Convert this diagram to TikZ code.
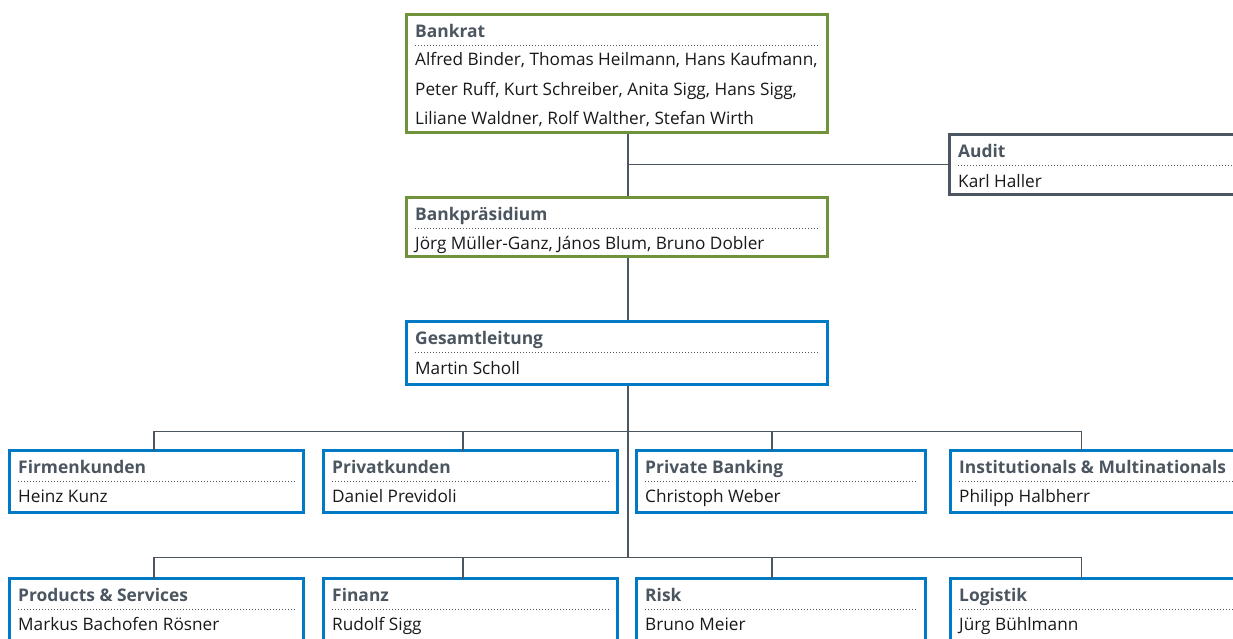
\documentclass[tikz,border=0pt]{standalone}
\usepackage{fontspec}
\setmainfont{Open Sans}
\usetikzlibrary{calc}
\definecolor{bgreen}{RGB}{112,146,58}
\definecolor{bblue}{RGB}{0,122,196}
\definecolor{bgray}{RGB}{76,86,96}
\definecolor{htext}{RGB}{76,86,96}
\definecolor{ntext}{RGB}{25,25,25}
\tikzset{
  boxst/.style={draw, line width=2.6pt, fill=white, rectangle, inner sep=0pt, outer sep=0pt, anchor=north west},
  headst/.style={font=\fontsize{17.4}{20}\selectfont\bfseries, text=htext, inner sep=0pt, anchor=base west},
  namest/.style={font=\fontsize{17.2}{29.5}\selectfont, text=ntext, inner sep=0pt, anchor=base west, align=left},
  dotst/.style={draw=bgray, line width=0.9pt, dash pattern=on 0.9pt off 2.1pt},
  conn/.style={draw=bgray, line width=1.3pt},
}
% #9: offset of the baseline of the last text line
\newcommand{\obox}[9]{%
  \node[boxst, draw=#6, minimum width=#4pt, minimum height=#5pt] (#1) at (#2,#3) {};
  \node[headst] (#1-h) at ($(#1.north west)+(8.5,23)$) {#7};
  \path[dotst] ($(#1.north west)+(8.5,31)$) -- ($(#1.north east)+(-8,31)$);
  \node[namest] (#1-n) at ($(#1.north west)+(8.5,#9)$) {#8};
}
\begin{document}
\begin{tikzpicture}[x=1pt,y=-1pt]
\useasboundingbox (0,0) rectangle (1233,638);
\clip (0,0) rectangle (1233,638);
\fill[white] (0,0) rectangle (1233,638);
% column / trunk coordinates
\coordinate (trunk) at (628,0);
\coordinate (c1) at (154,0);
\coordinate (c2) at (463,0);
\coordinate (c3) at (772,0);
\coordinate (c4) at (1081.5,0);
\coordinate (bus1) at (628,431.5);
\coordinate (bus2) at (628,557.5);
% connectors (drawn first, boxes on top)
\path[conn] (trunk |- 0,133) -- (trunk |- 0,197);
\path[conn] (trunk |- 0,164.5) -- (949,164.5);
\path[conn] (trunk |- 0,257) -- (trunk |- 0,321);
\path[conn] (trunk |- 0,385) -- (bus2);
% boxes
\obox{bankrat}{406.5}{14.5}{421}{118}{bgreen}{Bankrat}{Alfred Binder, Thomas Heilmann, Hans Kaufmann,\\Peter Ruff, Kurt Schreiber, Anita Sigg, Hans Sigg,\\Liliane Waldner, Rolf Walther, Stefan Wirth}{110}
\obox{audit}{949.5}{134.5}{330}{60}{bgray}{Audit}{Karl Haller}{52.5}
\obox{praes}{406.5}{197.5}{421}{59}{bgreen}{Bankpräsidium}{Jörg Müller-Ganz, János Blum, Bruno Dobler}{52}
\obox{gl}{406.5}{321.5}{421}{63}{bblue}{Gesamtleitung}{Martin Scholl}{53}
\obox{fk}{9.5}{450.5}{294}{62}{bblue}{Firmenkunden}{Heinz Kunz}{52}
\obox{pk}{323.5}{450.5}{294}{62}{bblue}{Privatkunden}{Daniel Previdoli}{52}
\obox{pb}{636.5}{450.5}{289}{62}{bblue}{Private Banking}{Christoph Weber}{52}
\obox{im}{950.5}{450.5}{330}{62}{bblue}{Institutionals \& Multinationals}{Philipp Halbherr}{52}
\obox{ps}{9.5}{578.5}{294}{70}{bblue}{Products \& Services}{Markus Bachofen Rösner}{52}
\obox{fi}{323.5}{578.5}{294}{70}{bblue}{Finanz}{Rudolf Sigg}{52}
\obox{ri}{636.5}{578.5}{289}{70}{bblue}{Risk}{Bruno Meier}{52}
\obox{lo}{950.5}{578.5}{330}{70}{bblue}{Logistik}{Jürg Bühlmann}{52}
% bus connectors
\path[conn] (fk.north -| c1) -- (c1 |- bus1) -- (c4 |- bus1) -- (im.north -| c4);
\path[conn] (pk.north -| c2) -- (c2 |- bus1);
\path[conn] (pb.north -| c3) -- (c3 |- bus1);
\path[conn] (ps.north -| c1) -- (c1 |- bus2) -- (c4 |- bus2) -- (lo.north -| c4);
\path[conn] (fi.north -| c2) -- (c2 |- bus2);
\path[conn] (ri.north -| c3) -- (c3 |- bus2);
\end{tikzpicture}
\end{document}
